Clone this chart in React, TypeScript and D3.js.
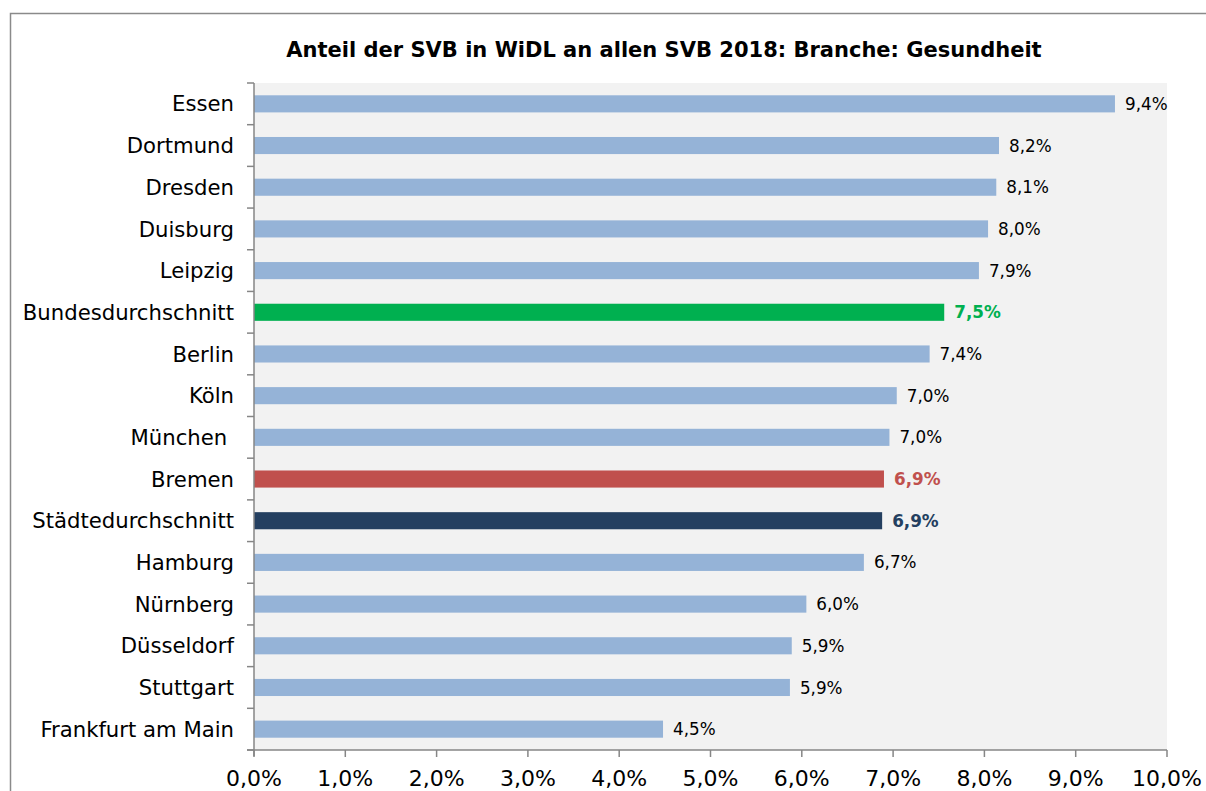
import React, { useEffect, useRef } from 'react';
import * as d3 from 'd3';

const categories = [
  'Essen', 'Dortmund', 'Dresden', 'Duisburg', 'Leipzig', 'Bundesdurchschnitt',
  'Berlin', 'Köln', 'München ', 'Bremen', 'Städtedurchschnitt', 'Hamburg',
  'Nürnberg', 'Düsseldorf', 'Stuttgart', 'Frankfurt am Main',
];
const values = [9.43, 8.16, 8.13, 8.04, 7.94, 7.56, 7.40, 7.04, 6.96, 6.90, 6.88, 6.68, 6.05, 5.89, 5.87, 4.48];
const valueLabels = ['9,4%', '8,2%', '8,1%', '8,0%', '7,9%', '7,5%', '7,4%', '7,0%', '7,0%', '6,9%', '6,9%', '6,7%', '6,0%', '5,9%', '5,9%', '4,5%'];
const xTicks = [0, 1, 2, 3, 4, 5, 6, 7, 8, 9, 10];
const highlight: Record<string, string> = {
  Bundesdurchschnitt: '#00b050',
  Bremen: '#c0504d',
  'Städtedurchschnitt': '#243f60',
};
const title = 'Anteil der SVB in WiDL an allen SVB 2018: Branche: Gesundheit';

const W = 1206;
const H = 791;

export default function App() {
  const ref = useRef<SVGSVGElement>(null);

  useEffect(() => {
    const svg = d3.select(ref.current);
    svg.selectAll('*').remove();
    const font = '"DejaVu Sans", Verdana, sans-serif';
    const left = 254, right = 1167, top = 83, bottom = 750;

    // outer frame
    svg.append('rect')
      .attr('x', 10.5).attr('y', 13.5)
      .attr('width', W + 20).attr('height', H + 20)
      .attr('fill', '#fff').attr('stroke', '#8a8a8a').attr('stroke-width', 1.5);

    svg.append('text')
      .attr('x', 664).attr('y', 57)
      .attr('text-anchor', 'middle')
      .style('font-family', font).style('font-size', '21px').style('font-weight', 'bold')
      .text(title);

    const x = d3.scaleLinear().domain([0, 10]).range([left, right]);
    const y = d3.scaleBand().domain(categories).range([top, bottom]).paddingInner(0.59).paddingOuter(0.295);

    svg.append('rect')
      .attr('x', left).attr('y', top)
      .attr('width', right - left).attr('height', bottom - top)
      .attr('fill', '#f2f2f2');

    const data = categories.map((c, i) => ({ c, v: values[i], label: valueLabels[i] }));

    svg.append('g').selectAll('rect').data(data).enter().append('rect')
      .attr('x', x(0))
      .attr('y', (d) => y(d.c)!)
      .attr('width', (d) => x(d.v) - x(0))
      .attr('height', y.bandwidth())
      .attr('fill', (d) => highlight[d.c] || '#95b3d7');

    svg.append('g').selectAll('text').data(data).enter().append('text')
      .attr('x', (d) => x(d.v) + 10)
      .attr('y', (d) => y(d.c)! + y.bandwidth() / 2)
      .attr('dy', '0.36em')
      .style('font-family', font).style('font-size', '16.8px')
      .style('font-weight', (d) => (highlight[d.c] ? 'bold' : 'normal'))
      .attr('fill', (d) => highlight[d.c] || '#000')
      .text((d) => d.label);

    const axisColor = '#868686';
    // y axis
    const step = (bottom - top) / categories.length;
    const yAxis = svg.append('g');
    yAxis.append('line')
      .attr('x1', left).attr('x2', left).attr('y1', top).attr('y2', bottom + 6)
      .attr('stroke', axisColor).attr('stroke-width', 1.5);
    yAxis.selectAll('line.tick').data(d3.range(categories.length + 1)).enter().append('line')
      .attr('class', 'tick')
      .attr('x1', left - 7).attr('x2', left)
      .attr('y1', (i) => top + i * step).attr('y2', (i) => top + i * step)
      .attr('stroke', axisColor).attr('stroke-width', 1.5);
    yAxis.selectAll('text').data(categories).enter().append('text')
      .attr('x', 234)
      .attr('y', (c) => y(c)! + y.bandwidth() / 2)
      .attr('dy', '0.36em')
      .attr('text-anchor', 'end')
      .style('white-space', 'pre')
      .style('font-family', font).style('font-size', '21.2px')
      .text((c) => c);

    // x axis
    const xAxis = svg.append('g');
    xAxis.append('line')
      .attr('x1', left - 7).attr('x2', right).attr('y1', bottom).attr('y2', bottom)
      .attr('stroke', axisColor).attr('stroke-width', 1.5);
    xAxis.selectAll('line.tick').data(xTicks).enter().append('line')
      .attr('class', 'tick')
      .attr('x1', (d) => x(d)).attr('x2', (d) => x(d))
      .attr('y1', bottom).attr('y2', bottom + 7)
      .attr('stroke', axisColor).attr('stroke-width', 1.5);
    xAxis.selectAll('text').data(xTicks).enter().append('text')
      .attr('x', (d) => x(d))
      .attr('y', 786)
      .attr('text-anchor', 'middle')
      .style('font-family', font).style('font-size', '22px')
      .text((d) => d3.format('.1f')(d).replace('.', ',') + '%');
  }, []);

  return (
    <svg ref={ref} width={W} height={H}
      style={{ position: 'absolute', left: 0, top: 0, display: 'block', background: '#fff' }} />
  );
}
